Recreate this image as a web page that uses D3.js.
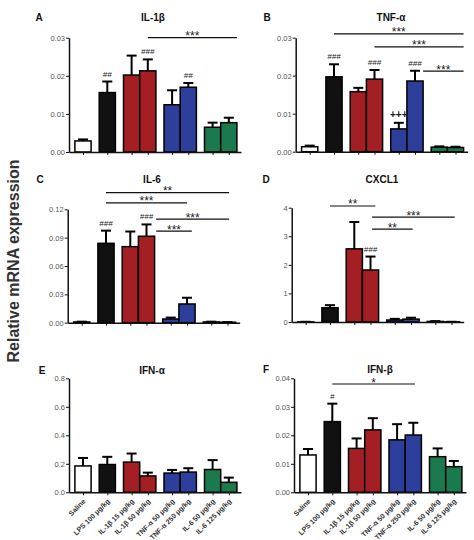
<!DOCTYPE html>
<html lang="en">
<head>
<meta charset="utf-8">
<title>Relative mRNA expression</title>
<script src="https://d3js.org/d3.v7.min.js"></script>
<style>
body { margin: 0; background: #fff; }
svg text { font-family: Arial, "Liberation Sans", sans-serif; }
.yaxis .tick text { fill: #555; font-size: 7.5px; }
.xaxis .tick text { fill: #333; font-size: 7px; font-weight: bold; }
.domain { stroke: #111; stroke-width: 1.5; }
.tick line { stroke: #111; stroke-width: 1; }
.title { font-size: 10px; font-weight: bold; fill: #111; }
.letter { font-size: 10px; font-weight: bold; fill: #111; }
.mark { font-size: 8px; fill: #222; font-style: italic; }
.star { font-size: 12px; fill: #222; }
</style>
</head>
<body>
<svg width="474" height="540"></svg>
<script>
// treatment groups, in plotting order
const groups = ["Saline", "LPS 100 μg/kg", "IL-1β 15 μg/kg", "IL-1β 50 μg/kg",
                "TNF-α 50 μg/kg", "TNF-α 250 μg/kg", "IL-6 50 μg/kg", "IL-6 125 μg/kg"];
const family = [0, 1, 2, 2, 3, 3, 4, 4];
const familyColors = ["#ffffff", "#111111", "#a31f24", "#2d3f9b", "#1b7a4d"];

// mean and SEM
const il1bMean = [0.0029, 0.0156, 0.0202, 0.0213, 0.0124, 0.0170, 0.0065, 0.0077];
const il1bErr  = [0.0004, 0.0029, 0.0051, 0.0030, 0.0038, 0.0011, 0.0012, 0.0013];
const tnfMean  = [0.0013, 0.0197, 0.0158, 0.0191, 0.0060, 0.0186, 0.0012, 0.0011];
const tnfErr   = [0.0003, 0.0033, 0.0010, 0.0024, 0.0016, 0.0027, 0.0002, 0.0002];
const il6Mean  = [0.0008, 0.0840, 0.0805, 0.0915, 0.0039, 0.0198, 0.0008, 0.0005];
const il6Err   = [0.0003, 0.0134, 0.0160, 0.0125, 0.0015, 0.0066, 0.0003, 0.0002];
const cxcl1Mean = [0.005, 0.50, 2.56, 1.82, 0.07, 0.10, 0.02, 0.005];
const cxcl1Err  = [0.003, 0.09, 0.94, 0.47, 0.04, 0.05, 0.01, 0.003];
const ifnaMean = [0.185, 0.195, 0.212, 0.115, 0.135, 0.142, 0.160, 0.070];
const ifnaErr  = [0.056, 0.054, 0.060, 0.023, 0.022, 0.027, 0.066, 0.033];
const ifnbMean = [0.0131, 0.0248, 0.0154, 0.0219, 0.0184, 0.0201, 0.0125, 0.0090];
const ifnbErr  = [0.0021, 0.0063, 0.0035, 0.0041, 0.0055, 0.0043, 0.0029, 0.0020];

// y tick values
const ticks003 = [0, 0.01, 0.02, 0.03];
const ticks012 = [0, 0.03, 0.06, 0.09, 0.12];
const ticks4   = [0, 1, 2, 3, 4];
const ticks08  = [0, 0.2, 0.4, 0.6, 0.8];
const ticks004 = [0, 0.01, 0.02, 0.03, 0.04];

const svg = d3.select("svg");
const unit = 16.2;   // bar width / spacing
const lead = 14;     // gap y axis -> first bar centre

// position of bar i in "bar widths": pairs touch, families are half a bar apart
function slot(i) { return i + 0.5 * family[i]; }

const panels = [
  {letter: "A", title: "IL-1β", mean: il1bMean, err: il1bErr, ticks: ticks003, fmt: ".2f",
   ox: 69, top: 37.7, bottom: 152, lx: 39, ly: 21, tx: 153,
   marks: [[1, "##"], [3, "###"], [5, "##"]],
   sig: [[4, 9.5, 0.030, "***"]]},
  {letter: "B", title: "TNF-α", mean: tnfMean, err: tnfErr, ticks: ticks003, fmt: ".2f",
   ox: 295.7, top: 37.7, bottom: 151.7, lx: 267, ly: 21, tx: 391,
   marks: [[1, "###"], [3, "###"], [5, "###"], [4, "+++"]],
   sig: [[1.5, 9.5, 0.031, "***"], [4, 9.5, 0.0276, "***"], [7, 9.5, 0.0212, "***"]]},
  {letter: "C", title: "IL-6", mean: il6Mean, err: il6Err, ticks: ticks012, fmt: ".2f",
   ox: 67.7, top: 209.3, bottom: 322.7, lx: 40, ly: 183, tx: 152,
   marks: [[1, "###"], [3, "###"]],
   sig: [[1.5, 9.1, 0.1376, "**"], [1.5, 6.5, 0.1267, "***"], [4.6, 9.1, 0.1097, "***"], [4.6, 6.8, 0.097, "***"]]},
  {letter: "D", title: "CXCL1", mean: cxcl1Mean, err: cxcl1Err, ticks: ticks4, fmt: "d",
   ox: 291.7, top: 207.7, bottom: 322, lx: 266, ly: 183, tx: 382,
   marks: [[3, "###"]],
   sig: [[1.5, 4.3, 4.06, "**"], [4.1, 9.2, 3.67, "***"], [4.1, 6.6, 3.25, "**"]]},
  {letter: "E", title: "IFN-α", mean: ifnaMean, err: ifnaErr, ticks: ticks08, fmt: ".1f",
   ox: 69, top: 378.3, bottom: 492.3, lx: 42, ly: 374, tx: 152,
   marks: [], sig: [], labels: true},
  {letter: "F", title: "IFN-β", mean: ifnbMean, err: ifnbErr, ticks: ticks004, fmt: ".2f",
   ox: 294, top: 378.3, bottom: 492.3, lx: 266, ly: 373, tx: 380,
   marks: [[1, "#"]],
   sig: [[1.5, 6.6, 0.038, "*"]], labels: true}
];

function drawPanel(p) {
  const g = svg.append("g");
  const s0 = -lead / unit, s1 = 9.75;
  const x = d3.scaleLinear().domain([s0, s1]).range([p.ox, p.ox + (s1 - s0) * unit]);
  const y = d3.scaleLinear().domain([0, d3.max(p.ticks)]).range([p.bottom, p.top]);
  const half = 0.5;

  // bars
  g.selectAll("rect.bar").data(p.mean).join("rect")
    .attr("class", "bar")
    .attr("x", (d, i) => x(slot(i) - half))
    .attr("width", x(1) - x(0))
    .attr("y", d => y(d))
    .attr("height", d => y(0) - y(d))
    .attr("fill", (d, i) => familyColors[family[i]])
    .attr("stroke", "#000")
    .attr("stroke-width", 1.5);

  // error bars (upper only)
  const eb = g.selectAll("g.err").data(p.mean).join("g").attr("class", "err");
  eb.append("line")
    .attr("x1", (d, i) => x(slot(i))).attr("x2", (d, i) => x(slot(i)))
    .attr("y1", d => y(d)).attr("y2", (d, i) => y(d + p.err[i]))
    .attr("stroke", "#000").attr("stroke-width", 2);
  eb.append("line")
    .attr("x1", (d, i) => x(slot(i)) - 5).attr("x2", (d, i) => x(slot(i)) + 5)
    .attr("y1", (d, i) => y(d + p.err[i])).attr("y2", (d, i) => y(d + p.err[i]))
    .attr("stroke", "#000").attr("stroke-width", 2);

  // axes
  g.append("g").attr("class", "yaxis")
    .attr("transform", "translate(" + p.ox + ",0)")
    .call(d3.axisLeft(y).tickValues(p.ticks).tickFormat(d3.format(p.fmt)).tickSize(3).tickPadding(1).tickSizeOuter(0));

  const xa = g.append("g").attr("class", "xaxis")
    .attr("transform", "translate(0," + p.bottom + ")")
    .call(d3.axisBottom(x).tickValues(groups.map((d, i) => slot(i)))
      .tickFormat((d, i) => p.labels ? groups[i] : "")
      .tickSize(3).tickSizeOuter(0));
  if (p.labels) {
    xa.selectAll(".tick text")
      .attr("text-anchor", "end")
      .attr("x", 0).attr("y", 0).attr("dy", "0.3em")
      .attr("transform", "translate(1,8) rotate(-45)");
  }

  // titles
  g.append("text").attr("class", "letter").attr("x", p.lx).attr("y", p.ly)
    .attr("text-anchor", "middle").text(p.letter);
  g.append("text").attr("class", "title").attr("x", p.tx).attr("y", p.ly)
    .attr("text-anchor", "middle").text(p.title);

  // significance marks over bars
  g.selectAll("text.mark").data(p.marks).join("text")
    .attr("class", "mark")
    .attr("x", d => x(slot(d[0])))
    .attr("y", d => y(p.mean[d[0]] + p.err[d[0]]) - 5)
    .attr("text-anchor", "middle")
    .style("font-size", d => d[1] === "+++" ? "10px" : null)
    .style("font-weight", d => d[1] === "+++" ? "bold" : null)
    .style("font-style", d => d[1] === "+++" ? "normal" : null)
    .text(d => d[1]);

  // comparison lines
  const sg = g.selectAll("g.sig").data(p.sig).join("g").attr("class", "sig");
  sg.append("line")
    .attr("x1", d => x(d[0])).attr("x2", d => x(d[1]))
    .attr("y1", d => y(d[2])).attr("y2", d => y(d[2]))
    .attr("stroke", "#111").attr("stroke-width", 1.2);
  sg.append("text").attr("class", "star")
    .attr("x", d => x((d[0] + d[1]) / 2))
    .attr("y", d => y(d[2]) + 2.5)
    .attr("text-anchor", "middle")
    .text(d => d[3]);
}

panels.forEach(drawPanel);

svg.append("text")
  .attr("transform", "translate(19,261) rotate(-90)")
  .attr("text-anchor", "middle")
  .style("font-size", "16px").style("font-weight", "bold").style("fill", "#333")
  .text("Relative mRNA expression");
</script>
</body>
</html>
